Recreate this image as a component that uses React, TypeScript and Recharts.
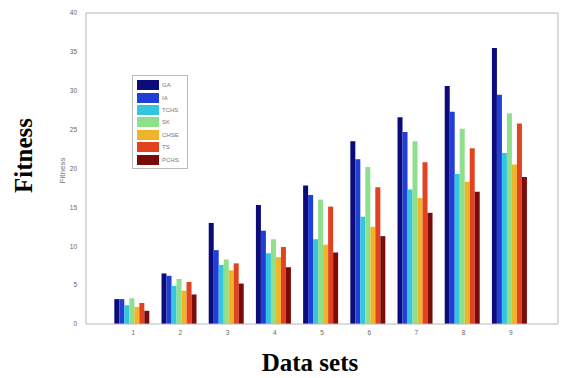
import { Bar, BarChart, Label, XAxis, YAxis } from "recharts";

const dataSets = ["1", "2", "3", "4", "5", "6", "7", "8", "9"];
const yTicks = [0, 5, 10, 15, 20, 25, 30, 35, 40];

const seriesNames = ["GA", "IA", "TCHS", "SK", "CHSE", "TS", "PCHS"];
const seriesColors = ["#0b0b7a", "#1f3fd6", "#33c6de", "#8fe08c", "#efb52a", "#e2421f", "#7a0b0b"];

const gaVals = [3.2, 6.5, 13.0, 15.3, 17.8, 23.5, 26.6, 30.6, 35.5];
const iaVals = [3.2, 6.2, 9.5, 12.0, 16.6, 21.2, 24.7, 27.3, 29.5];
const tchsVals = [2.4, 4.9, 7.6, 9.1, 10.9, 13.8, 17.3, 19.3, 22.0];
const skVals = [3.3, 5.8, 8.3, 10.9, 16.0, 20.2, 23.5, 25.1, 27.1];
const chseVals = [2.2, 4.3, 6.9, 8.6, 10.2, 12.5, 16.2, 18.3, 20.5];
const tsVals = [2.7, 5.4, 7.8, 9.9, 15.1, 17.6, 20.8, 22.6, 25.8];
const pchsVals = [1.7, 3.8, 5.2, 7.3, 9.2, 11.3, 14.3, 17.0, 18.9];

const seriesVals = [gaVals, iaVals, tchsVals, skVals, chseVals, tsVals, pchsVals];

const data = dataSets.map((set, i) => {
  const row: Record<string, string | number> = { set };
  seriesNames.forEach((name, s) => {
    row[name] = seriesVals[s][i];
  });
  return row;
});

const axisColor = "#b8b8b8";
const tickStyle = { fontSize: 6.5, fill: "#666", fontFamily: "Liberation Sans, Arial, sans-serif" };

function LegendBox() {
  return (
    <div
      style={{
        position: "absolute",
        left: 132,
        top: 75,
        border: "1px solid #bbb",
        background: "#fff",
        padding: "3px 4px 2px 4px",
        fontFamily: "Liberation Sans, Arial, sans-serif",
        fontSize: 6,
        color: "#777",
        width: 46,
      }}
    >
      {seriesNames.map((name, i) => (
        <div key={name} style={{ display: "flex", alignItems: "center", height: 12.4 }}>
          <span style={{ width: 22, height: 10, background: seriesColors[i], marginRight: 3 }} />
          {name}
        </div>
      ))}
    </div>
  );
}

function YLabels(props: any) {
  const vb = props.viewBox || { y: 13, height: 311 };
  const cy = vb.y + vb.height / 2;
  return (
    <g>
      <text
        x={32}
        y={cy - 13}
        transform={`rotate(-90, 32, ${cy - 13})`}
        textAnchor="middle"
        fontFamily="Liberation Serif, Times New Roman, serif"
        fontWeight="bold"
        fontSize={25}
        fill="#000"
      >
        Fitness
      </text>
      <text
        x={65}
        y={cy + 2}
        transform={`rotate(-90, 65, ${cy + 2})`}
        textAnchor="middle"
        fontFamily="Liberation Sans, Arial, sans-serif"
        fontSize={8}
        fill="#777"
      >
        Fitness
      </text>
    </g>
  );
}

function XLabel() {
  return (
    <text
      x={310}
      y={371}
      textAnchor="middle"
      fontFamily="Liberation Serif, Times New Roman, serif"
      fontWeight="bold"
      fontSize={25}
      fill="#000"
    >
      Data sets
    </text>
  );
}

export default function App() {
  return (
    <div style={{ position: "absolute", left: 0, top: 0, width: 568, height: 378, background: "#fff" }}>
      <BarChart
        width={568}
        height={378}
        data={data}
        margin={{ top: 12, right: 9, left: 0, bottom: 0 }}
        barCategoryGap="10%"
        barGap={0}
      >
        <XAxis
          dataKey="set"
          height={54}
          padding={{ left: 23.6, right: 23.6 }}
          stroke={axisColor}
          tickLine={false}
          tickSize={5}
          tickMargin={1}
          tick={tickStyle}
        >
          <Label content={<XLabel />} />
        </XAxis>
        <XAxis
          xAxisId="top"
          dataKey="set"
          orientation="top"
          height={1}
          padding={{ left: 23.6, right: 23.6 }}
          stroke={axisColor}
          tick={false}
          tickLine={false}
        />
        <YAxis
          domain={[0, 40]}
          ticks={yTicks}
          width={86}
          stroke={axisColor}
          tickLine={false}
          tickSize={6}
          tickMargin={3}
          tick={tickStyle}
        >
          <Label content={<YLabels />} />
        </YAxis>
        <YAxis
          yAxisId="right"
          orientation="right"
          domain={[0, 40]}
          width={1}
          stroke={axisColor}
          tick={false}
          tickLine={false}
        />
        {seriesNames.map((name, i) => (
          <Bar key={name} dataKey={name} fill={seriesColors[i]} isAnimationActive={false} />
        ))}
      </BarChart>
      <LegendBox />
    </div>
  );
}
